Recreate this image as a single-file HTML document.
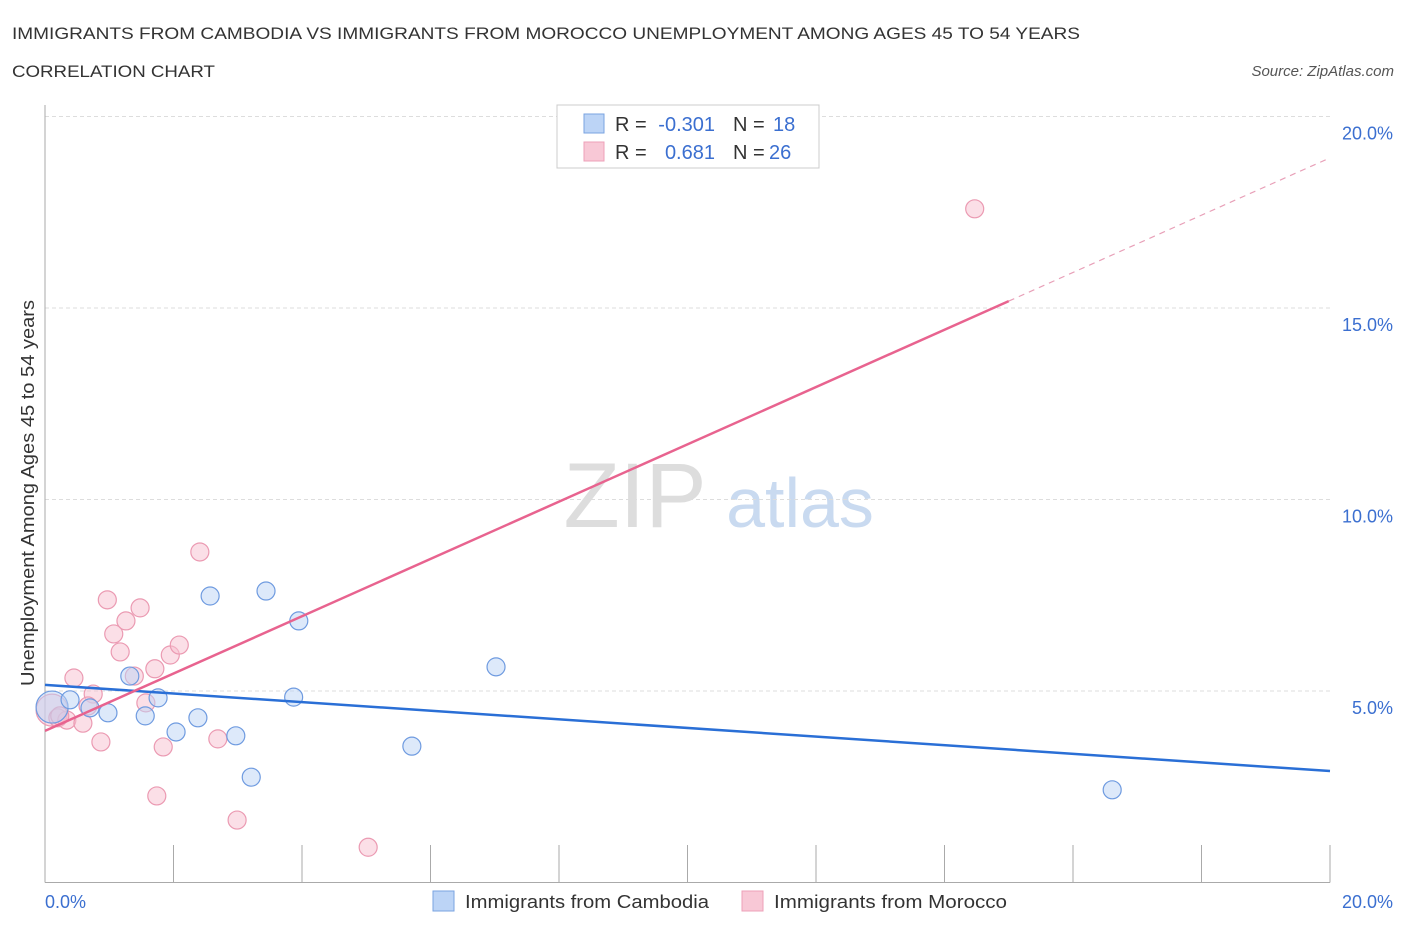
<!DOCTYPE html>
<html><head><meta charset="utf-8"><style>
body{margin:0;background:#fff;font-family:"Liberation Sans",sans-serif}
svg text{font-family:"Liberation Sans",sans-serif}
</style></head><body>
<svg width="1406" height="930">
<text x="12" y="39" font-size="17" fill="#333" textLength="1068" lengthAdjust="spacingAndGlyphs">IMMIGRANTS FROM CAMBODIA VS IMMIGRANTS FROM MOROCCO UNEMPLOYMENT AMONG AGES 45 TO 54 YEARS</text>
<text x="12" y="77" font-size="17" fill="#333" textLength="203" lengthAdjust="spacingAndGlyphs">CORRELATION CHART</text>
<text x="1394" y="76" font-size="15" fill="#555" font-style="italic" text-anchor="end">Source: ZipAtlas.com</text>
<text x="635" y="527" font-size="92" fill="#ddd" font-family="Liberation Serif" text-anchor="middle">ZIP</text>
<text x="800" y="527" font-size="70" fill="#c9daf0" text-anchor="middle">atlas</text>
<g id="grid"></g>
<g id="axes"></g>
<g id="marks"></g>
<text transform="translate(34,493) rotate(-90)" font-size="18" fill="#333" text-anchor="middle" textLength="386" lengthAdjust="spacingAndGlyphs">Unemployment Among Ages 45 to 54 years</text>
<text x="45" y="908" font-size="18" fill="#3b6fd0">0.0%</text>
<text x="1393" y="908" font-size="18" fill="#3b6fd0" text-anchor="end">20.0%</text>
<g>
<rect x="557" y="105" width="262" height="63" fill="#fff" stroke="#ccc"/>
<rect x="584" y="114" width="20" height="19" fill="#bcd4f6" stroke="#7aa3e0"/>
<rect x="584" y="142" width="20" height="19" fill="#f8c8d6" stroke="#eea0b8"/>
<text x="615" y="131" font-size="20" fill="#333">R =</text>
<text x="715" y="131" font-size="20" fill="#3b6fd0" text-anchor="end">-0.301</text>
<text x="733" y="131" font-size="20" fill="#333">N =</text>
<text x="773" y="131" font-size="20" fill="#3b6fd0">18</text>
<text x="615" y="159" font-size="20" fill="#333">R =</text>
<text x="715" y="159" font-size="20" fill="#3b6fd0" text-anchor="end">0.681</text>
<text x="733" y="159" font-size="20" fill="#333">N =</text>
<text x="769" y="159" font-size="20" fill="#3b6fd0">26</text>
</g>
<g>
<rect x="433" y="891" width="21" height="20" fill="#bcd4f6" stroke="#7aa3e0"/>
<text x="465" y="908" font-size="18" fill="#333" textLength="244" lengthAdjust="spacingAndGlyphs">Immigrants from Cambodia</text>
<rect x="742" y="891" width="21" height="20" fill="#f8c8d6" stroke="#eea0b8"/>
<text x="774" y="908" font-size="18" fill="#333" textLength="233" lengthAdjust="spacingAndGlyphs">Immigrants from Morocco</text>
</g>
</svg>
<script>
const yTicks=[5,10,15,20];
const yTickLabels=["5.0%","10.0%","15.0%","20.0%"];
const xTicks=[0,2,4,6,8,10,12,14,16,18,20];
const cambodiaX=[0.11,0.39,0.70,0.98,1.32,1.56,1.76,2.04,2.38,2.57,2.97,3.21,3.44,3.87,3.95,5.71,7.02,16.61];
const cambodiaY=[4.58,4.77,4.56,4.43,5.39,4.35,4.82,3.93,4.30,7.48,3.83,2.75,7.61,4.84,6.83,3.56,5.63,2.42];
const moroccoX=[0.11,0.20,0.34,0.45,0.59,0.75,0.87,0.97,1.07,1.17,1.26,1.39,1.48,1.57,1.71,1.74,1.84,1.95,2.09,2.41,2.69,2.99,5.03,14.47,0.67,0.23];
const moroccoY=[4.50,4.30,4.24,5.34,4.16,4.92,3.67,7.38,6.49,6.02,6.83,5.39,7.17,4.69,5.58,2.26,3.54,5.94,6.20,8.63,3.75,1.63,0.92,17.59,4.61,4.35];
const cambodiaTrend=[5.16,2.91];
const moroccoTrend=[3.96,18.92];
const moroccoSolidEnd=15;
const NS="http://www.w3.org/2000/svg";
const X=v=>45+v/20*1285;
const Y=v=>882.5-v/5*191.5;
function mk(tag,attrs,parent){const e=document.createElementNS(NS,tag);for(const k in attrs)e.setAttribute(k,attrs[k]);document.getElementById(parent).appendChild(e);return e;}
yTicks.forEach((t,i)=>{
 const l=mk('line',{x1:45,x2:1330,y1:Y(t),y2:Y(t),stroke:'#ddd','stroke-dasharray':'4,3'},'grid');
 
 
 const tx=mk('text',{x:1393,y:Y(t)+23,'font-size':18,fill:'#3b6fd0','text-anchor':'end'},'grid');
 tx.textContent=yTickLabels[i];
 
 
});
const ax=mk('line',{x1:45,x2:1330,y1:882.5,y2:882.5,stroke:'#aaa'},'axes');


const ay=mk('line',{x1:45,x2:45,y1:105,y2:882.5,stroke:'#aaa'},'axes');


xTicks.forEach(t=>{
 const l=mk('line',{x1:X(t),x2:X(t),y1:845,y2:882.5,stroke:'#aaa'},'axes');
 
 
});
function dot(x,y,r,fill,stroke,name){
 const c=mk('circle',{cx:X(x),cy:Y(y),r:r,fill:fill,stroke:stroke,'stroke-width':1.2,'fill-opacity':0.5},'marks');
 
 
}
moroccoX.forEach((x,i)=>dot(x,moroccoY[i],i===0?16:9,'#f8c0d0','#eb9ab2','point-morocco'));
cambodiaX.forEach((x,i)=>dot(x,cambodiaY[i],i===0?16:9,'#bcd4f6','#6f9be0','point-cambodia'));
const bl=mk('line',{x1:X(0),y1:Y(cambodiaTrend[0]),x2:X(20),y2:Y(cambodiaTrend[1]),stroke:'#2a6fd6','stroke-width':2.5},'marks');


const slope=(moroccoTrend[1]-moroccoTrend[0])/20;
const ym=moroccoTrend[0]+slope*moroccoSolidEnd;
const pl=mk('line',{x1:X(0),y1:Y(moroccoTrend[0]),x2:X(moroccoSolidEnd),y2:Y(ym),stroke:'#e8638f','stroke-width':2.5},'marks');


const pd=mk('line',{x1:X(moroccoSolidEnd),y1:Y(ym),x2:X(20),y2:Y(moroccoTrend[1]),stroke:'#e8a0b8','stroke-width':1.2,'stroke-dasharray':'6,5'},'marks');


</script>
</body></html>
